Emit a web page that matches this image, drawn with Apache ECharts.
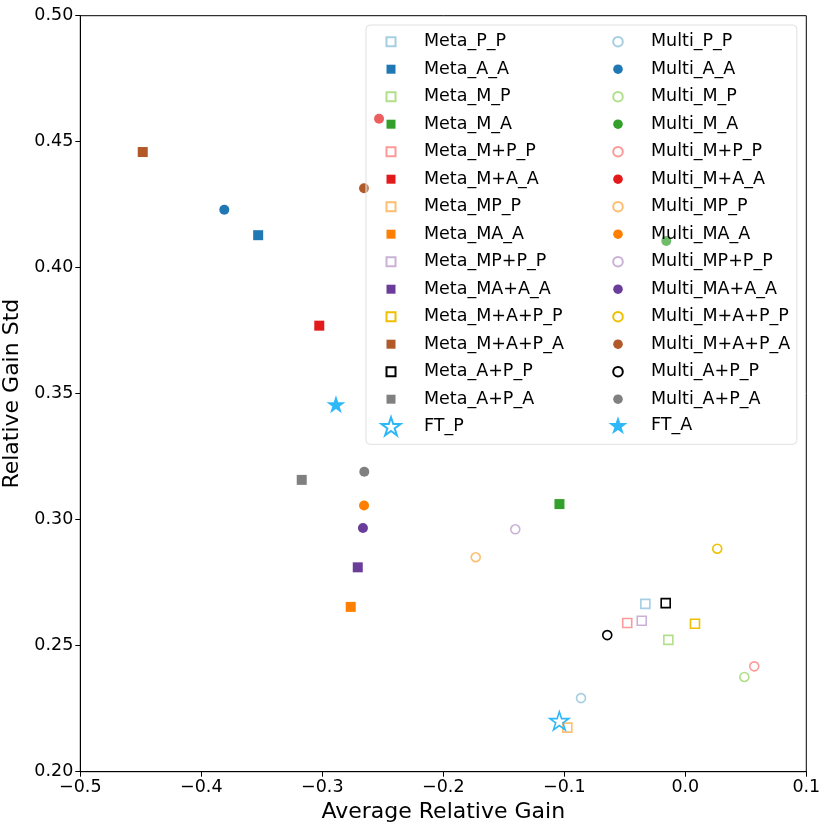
<!DOCTYPE html>
<html lang="en">
<head>
  <meta charset="UTF-8">
  <title>gain scatter</title>
  <style>
    html, body, #chart {
      margin: 0;
      padding: 0;
      width: 100%;
      height: 100%;
      background: #fff;
    }
  </style>
</head>
<body>
<div id="chart"></div>

<script src="https://cdn.jsdelivr.net/npm/echarts@6/dist/echarts.min.js"></script>
<script>
  // data
  var metaNames = ['Meta_P_P', 'Meta_A_A', 'Meta_M_P', 'Meta_M_A', 'Meta_M+P_P', 'Meta_M+A_A', 'Meta_MP_P',
    'Meta_MA_A', 'Meta_MP+P_P', 'Meta_MA+A_A', 'Meta_M+A+P_P', 'Meta_M+A+P_A', 'Meta_A+P_P', 'Meta_A+P_A'];
  var metaX = [-0.033, -0.353, -0.014, -0.104, -0.048, -0.3025, -0.0975,
    -0.2765, -0.036, -0.2707, 0.008, -0.4484, -0.0162, -0.317];
  var metaY = [0.2666, 0.4129, 0.2523, 0.3062, 0.2590, 0.3770, 0.2175,
    0.2654, 0.2599, 0.2811, 0.2587, 0.4459, 0.2669, 0.3158];

  var multiNames = ['Multi_P_P', 'Multi_A_A', 'Multi_M_P', 'Multi_M_A', 'Multi_M+P_P', 'Multi_M+A_A', 'Multi_MP_P',
    'Multi_MA_A', 'Multi_MP+P_P', 'Multi_MA+A_A', 'Multi_M+A+P_P', 'Multi_M+A+P_A', 'Multi_A+P_P', 'Multi_A+P_A'];
  var multiX = [-0.0862, -0.381, 0.0488, -0.0157, 0.057, -0.2531, -0.1732,
    -0.2655, -0.1405, -0.2664, 0.0264, -0.2655, -0.0645, -0.2653];
  var multiY = [0.2292, 0.4230, 0.2376, 0.4106, 0.2418, 0.4591, 0.2851,
    0.3056, 0.2962, 0.2967, 0.2885, 0.4315, 0.2542, 0.3190];

  var ftNames = ['FT_P', 'FT_A'];
  var ftX = [-0.1041, -0.2887];
  var ftY = [0.2202, 0.3458];

  // colours, one per suffix (the _P ones are hollow)
  var palette = ['#a6cee3', '#1f78b4', '#b2df8a', '#33a02c', '#fb9a99', '#e31a1c', '#fdbf6f',
    '#ff7f00', '#cab2d6', '#6a3d9a', '#f0c000', '#b15928', '#000000', '#808080'];
  var ftColor = '#2fb8f8';

  var FONT = 'DejaVu Sans';

  function starPath(cx, cy, r) {
    var pts = [];
    for (var i = 0; i < 10; i++) {
      var rr = i % 2 ? r * 0.382 : r;
      var a = -Math.PI / 2 + i * Math.PI / 5;
      pts.push((cx + rr * Math.cos(a)).toFixed(2) + ',' + (cy + rr * Math.sin(a)).toFixed(2));
    }
    return 'M' + pts.join('L') + 'Z';
  }

  // legend icons: the extra moves set the box so the mark sits left of the text
  var iconSquare = 'path://M0,0M38,20M5.5,5.5h9v9h-9z';
  var iconCircle = 'path://M0,0M38,20M5.2,10a4.8,4.8 0 1,0 9.6,0a4.8,4.8 0 1,0 -9.6,0z';
  var iconStar = 'path://M0,0M38,20' + starPath(10, 10.5, 10);
  var seriesStar = 'path://' + starPath(10, 10.5, 10);

  function makeSeries(name, x, y, kind, color, hollow) {
    return {
      name: name,
      type: 'scatter',
      data: [[x, y]],
      symbol: kind === 'star' ? seriesStar : kind,
      symbolKeepAspect: true,
      symbolSize: kind === 'star' ? 19 : (hollow ? 9 : 10),
      itemStyle: hollow
        ? { color: 'rgba(0,0,0,0)', borderColor: color, borderWidth: 1.6, opacity: 1 }
        : { color: color, borderWidth: 0, opacity: 1 },
      emphasis: { disabled: true }
    };
  }

  var series = [];
  var legendA = [];
  var legendB = [];
  metaNames.forEach(function (n, i) {
    series.push(makeSeries(n, metaX[i], metaY[i], 'rect', palette[i], i % 2 === 0));
    legendA.push({ name: n, icon: iconSquare });
  });
  multiNames.forEach(function (n, i) {
    series.push(makeSeries(n, multiX[i], multiY[i], 'circle', palette[i], i % 2 === 0));
    legendB.push({ name: n, icon: iconCircle });
  });
  ftNames.forEach(function (n, i) {
    series.push(makeSeries(n, ftX[i], ftY[i], 'star', ftColor, i === 0));
  });
  legendA.push({ name: ftNames[0], icon: iconStar });
  legendB.push({ name: ftNames[1], icon: iconStar });

  var legendText = { fontFamily: FONT, fontSize: 17.5, color: '#000' };

  var chart = echarts.init(document.getElementById('chart'));
  chart.setOption({
    animation: false,
    grid: {
      left: 80.3, right: 23.7, top: 15.7, bottom: 58.3,
      outerBoundsMode: 'none', containLabel: false,
      show: true, borderColor: '#000', borderWidth: 1, backgroundColor: 'transparent'
    },
    xAxis: {
      type: 'value', min: -0.5, max: 0.1, interval: 0.1,
      name: 'Average Relative Gain', nameLocation: 'middle', nameGap: 21,
      nameTextStyle: { fontFamily: FONT, fontSize: 22, color: '#000' },
      axisLine: { onZero: false, lineStyle: { color: '#000', width: 1 } },
      axisTick: { show: true, inside: false, length: 5, lineStyle: { color: '#000' } },
      axisLabel: {
        fontFamily: FONT, fontSize: 17.5, color: '#000', margin: 7,
        formatter: function (v) {
          var r = Math.round(v * 10) / 10;
          return (r < 0 ? '\u2212' : '') + Math.abs(r).toFixed(1);
        }
      },
      splitLine: { show: false }
    },
    yAxis: {
      type: 'value', min: 0.2, max: 0.5, interval: 0.05,
      name: 'Relative Gain Std', nameLocation: 'middle', nameGap: 45,
      nameTextStyle: { fontFamily: FONT, fontSize: 22, color: '#000' },
      axisLine: { onZero: false, lineStyle: { color: '#000', width: 1 } },
      axisTick: { show: true, inside: false, length: 5, lineStyle: { color: '#000' } },
      axisLabel: {
        fontFamily: FONT, fontSize: 17.5, color: '#000', margin: 7,
        formatter: function (v) { return v.toFixed(2); }
      },
      splitLine: { show: false }
    },
    legend: [{
      orient: 'vertical', left: 366, top: 25,
      padding: [5.7, 233, 6.6, 14],
      itemWidth: 38, itemHeight: 20, itemGap: 6.5,
      backgroundColor: 'rgba(255,255,255,0.3)',
      borderColor: '#e0e0e0', borderWidth: 1, borderRadius: 4,
      textStyle: legendText,
      data: legendA,
      z: 4
    }, {
      orient: 'vertical', left: 607, top: 30.7,
      padding: 0,
      itemWidth: 38, itemHeight: 20, itemGap: 6.5,
      textStyle: legendText,
      data: legendB,
      z: 5
    }],
    series: series
  });
</script>
</body>
</html>
